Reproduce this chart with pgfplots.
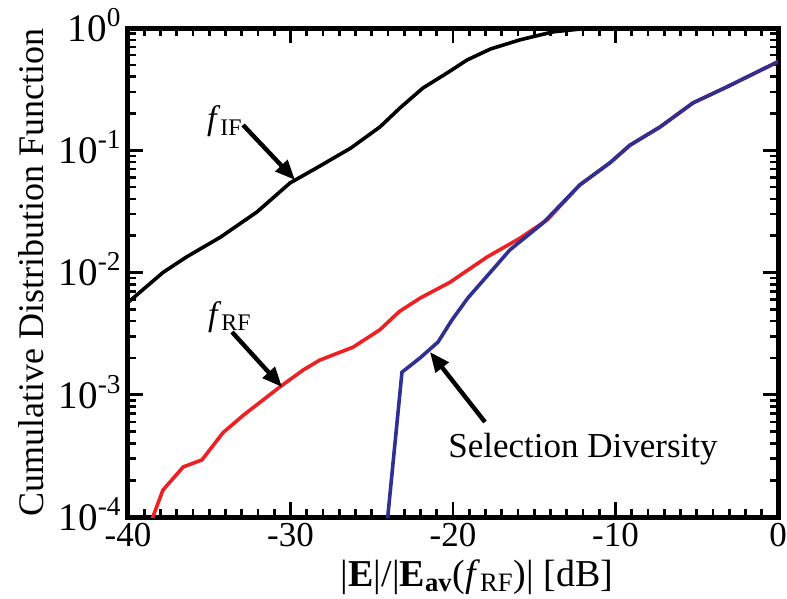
\documentclass[border=0pt]{standalone}
\usepackage{fontspec}
\setmainfont{Liberation Serif}
\usepackage{pgfplots}
\pgfplotsset{compat=1.18}
\usetikzlibrary{arrows.meta}
\definecolor{cdfred}{RGB}{237,32,36}
\definecolor{cdfblue}{RGB}{46,49,146}

\begin{document}
\begin{tikzpicture}
\path[use as bounding box] (-64pt,-41pt) rectangle (329.5pt,258.5pt);
\begin{semilogyaxis}[
  at={(0,0)}, anchor=south west,
  scale only axis, width=325pt, height=244.5pt,
  xmin=-40, xmax=0, ymin=1e-4, ymax=1,
  xtick={-40,-30,-20,-10,0},
  xticklabels={-40,-30,-20,-10,0},
  minor x tick num=9,
  ytick={1e-4,1e-3,1e-2,1e-1,1},
  yticklabels={10\textsuperscript{-4},10\textsuperscript{-3},10\textsuperscript{-2},10\textsuperscript{-1},10\textsuperscript{0}},
  tick align=inside, tick pos=both,
  major tick length=7.5pt, minor tick length=4pt,
  every tick/.style={black, line width=1.3pt},
  axis line style={line width=2.5pt},
  xticklabel style={inner sep=0pt, yshift=-3pt, font=\fontsize{17.5}{20}\selectfont},
  yticklabel style={inner sep=0pt, xshift=-3pt, yshift=1.5pt, font=\fontsize{19.5}{22}\selectfont},
  xlabel={|\textbf{E}|/|\textbf{E}\textsubscript{\textbf{av}}(\textit{f}\textsubscript{RF})| [dB]},
  ylabel={Cumulative Distribution Function},
  xlabel style={at={(axis description cs:0.537,-0.086)}, anchor=north, inner sep=0pt, font=\fontsize{19}{22}\selectfont},
  ylabel style={at={(axis description cs:-0.129,0.5)}, anchor=south, inner sep=0pt, font=\fontsize{18}{21}\selectfont},
]
% f_IF
\addplot[black, line width=1.8pt] coordinates {
  (-40.06,0.0056) (-37.85,0.0100) (-36.4,0.0134) (-34.3,0.0195) (-32.06,0.0313)
  (-30.03,0.054) (-28.4,0.0716) (-26.3,0.104) (-24.5,0.155) (-23.26,0.222)
  (-21.85,0.323) (-20.37,0.428) (-19.14,0.547) (-17.7,0.673) (-15.88,0.80)
  (-13.85,0.93) (-12.2,0.98) (-10,1.0) (0,1.0)
};
% f_RF
\addplot[cdfred, line width=1.8pt] coordinates {
  (-38.6,9e-5) (-37.85,1.66e-4) (-36.6,2.57e-4) (-35.45,2.93e-4) (-34.15,4.9e-4)
  (-32.9,6.8e-4) (-30.65,1.16e-3) (-29.2,1.6e-3) (-28.2,1.92e-3) (-26.15,2.45e-3)
  (-24.5,3.4e-3) (-23.3,4.8e-3) (-22.0,6.2e-3) (-20.2,8.3e-3) (-17.9,1.34e-2)
  (-15.9,1.9e-2) (-14.2,2.7e-2) (-12.2,0.052) (-10.34,0.079) (-9.11,0.110)
  (-7.26,0.155) (-5.23,0.244) (-3.14,0.33) (0,0.53)
};
% selection diversity
\addplot[cdfblue, line width=1.8pt] coordinates {
  (-24.05,9e-5) (-23.14,1.53e-3) (-22.03,2.0e-3) (-20.92,2.7e-3) (-20.06,4.1e-3)
  (-19.08,6.2e-3) (-16.5,1.53e-2) (-14.46,2.54e-2) (-12.2,0.052) (-10.34,0.079)
  (-9.11,0.110) (-7.26,0.155) (-5.23,0.244) (-3.14,0.33) (0,0.53)
};
\draw[line width=2.2pt, -{Triangle[length=10pt,width=8pt]}] (axis cs:-32.92,0.161) -- (axis cs:-29.72,0.0571);
\draw[line width=2.2pt, -{Triangle[length=10pt,width=8pt]}] (axis cs:-33.6,3.26e-3) -- (axis cs:-30.52,1.156e-3);
\draw[line width=2.2pt, -{Triangle[length=10pt,width=8pt]}] (axis cs:-18.03,5.98e-4) -- (axis cs:-21.42,2.24e-3);
\node[anchor=base east, inner sep=0pt, font=\fontsize{17}{20}\selectfont] at (axis cs:-32.92,0.1465) {\textit{f}\textsubscript{IF}};
\node[anchor=base east, inner sep=0pt, font=\fontsize{17}{20}\selectfont] at (axis cs:-32.37,3.72e-3) {\textit{f}\textsubscript{RF}};
\node[anchor=base west, inner sep=0pt, font=\fontsize{17.5}{20}\selectfont] at (axis cs:-20.31,3.04e-4) {Selection Diversity};
\end{semilogyaxis}
\end{tikzpicture}
\end{document}
